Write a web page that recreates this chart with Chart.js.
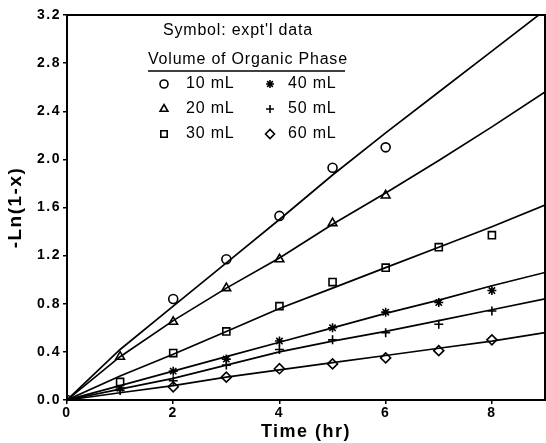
<!DOCTYPE html>
<html>
<head>
<meta charset="utf-8">
<script src="https://cdn.jsdelivr.net/npm/chart.js@4.4.1/dist/chart.umd.min.js"></script>
<style>
  body { margin: 0; background: #fff; }
  #wrap { width: 546px; height: 443px; }
</style>
</head>
<body>
<div id="wrap"><canvas id="chart" width="546" height="443"></canvas></div>
<script>
// series labels (volume of organic phase)
const volumes = ['10 mL', '20 mL', '30 mL', '40 mL', '50 mL', '60 mL'];

// experimental data, time (hr) and -Ln(1-x)
const t10 = [0, 2, 3, 4, 5, 6];
const y10 = [0, 0.84, 1.17, 1.53, 1.93, 2.10];
const t20 = [1, 2, 3, 4, 5, 6];
const y20 = [0.36, 0.65, 0.93, 1.17, 1.47, 1.70];
const t30 = [1, 2, 3, 4, 5, 6, 7, 8];
const y30 = [0.15, 0.39, 0.57, 0.78, 0.98, 1.10, 1.27, 1.37];
const t40 = [1, 2, 3, 4, 5, 6, 7, 8];
const y40 = [0.10, 0.24, 0.34, 0.49, 0.60, 0.73, 0.81, 0.91];
const t50 = [1, 2, 3, 4, 5, 6, 7, 8];
const y50 = [0.08, 0.16, 0.29, 0.42, 0.50, 0.56, 0.63, 0.74];
const t60 = [2, 3, 4, 5, 6, 7, 8];
const y60 = [0.11, 0.19, 0.26, 0.30, 0.35, 0.41, 0.50];

// model lines, read at each hour
const fitT = [0, 1, 2, 3, 4, 5, 6, 7, 8, 9];
const fit10 = [0, 0.42, 0.78, 1.14, 1.50, 1.87, 2.22, 2.56, 2.90, 3.24];
const fit20 = [0, 0.36, 0.66, 0.93, 1.18, 1.46, 1.72, 1.99, 2.27, 2.56];
const fit30 = [0, 0.20, 0.38, 0.57, 0.76, 0.93, 1.10, 1.27, 1.44, 1.62];
const fit40 = [0, 0.12, 0.24, 0.36, 0.48, 0.60, 0.72, 0.83, 0.95, 1.06];
const fit50 = [0, 0.09, 0.18, 0.29, 0.40, 0.49, 0.57, 0.66, 0.75, 0.84];
const fit60 = [0, 0.06, 0.12, 0.19, 0.25, 0.31, 0.37, 0.43, 0.49, 0.56];

// axis ticks
const xTicks = [0, 2, 4, 6, 8];
const yTicks = [0, 0.4, 0.8, 1.2, 1.6, 2.0, 2.4, 2.8, 3.2];

const expT = [t10, t20, t30, t40, t50, t60];
const expY = [y10, y20, y30, y40, y50, y60];
const fits = [fit10, fit20, fit30, fit40, fit50, fit60];
const symbols = ['circle', 'triangle', 'rect', 'star', 'cross', 'rectRot'];
const symbolSize = [4.5, 5, 5, 4.5, 4.5, 5];

const pairs = (xs, ys) => xs.map((x, i) => ({ x: x, y: ys[i] }));

const datasets = [];
fits.forEach(f => {
    datasets.push({
        data: pairs(fitT, f),
        showLine: true,
        borderColor: '#000',
        borderWidth: 1.7,
        pointRadius: 0,
        tension: 0
    });
});
expT.forEach((ts, i) => {
    datasets.push({
        label: volumes[i],
        data: pairs(ts, expY[i]),
        showLine: false,
        pointStyle: symbols[i],
        pointRadius: symbolSize[i],
        pointBorderWidth: 1.6,
        pointBorderColor: '#000',
        pointBackgroundColor: '#fff'
    });
});

const FONT = '"Liberation Sans", Arial, sans-serif';

// wider letter spacing for the axis texts
const spacingPlugin = {
    id: 'spacing',
    beforeDraw(chart) { chart.ctx.letterSpacing = '1.5px'; }
};

// frame + legend drawn inside the plot
const framePlugin = {
    id: 'frame',
    afterDraw(chart) {
        const ctx = chart.ctx;
        const a = chart.chartArea;
        ctx.save();
        ctx.strokeStyle = '#000';
        ctx.lineWidth = 2;
        ctx.strokeRect(a.left, a.top, a.right - a.left, a.bottom - a.top);

        ctx.fillStyle = '#000';
        ctx.textBaseline = 'middle';
        ctx.textAlign = 'left';
        ctx.letterSpacing = '0.8px';
        ctx.font = '16px ' + FONT;
        ctx.fillText("Symbol: expt'l data", 163, 31);
        ctx.fillText('Volume of Organic Phase', 148, 60);
        ctx.lineWidth = 1.5;
        ctx.beginPath();
        ctx.moveTo(148, 71);
        ctx.lineTo(345, 71);
        ctx.stroke();

        const colSym = [164, 270];
        const colTxt = [186, 288];
        const rowY = [84, 109, 134];
        volumes.forEach((v, i) => {
            const c = Math.floor(i / 3), r = i % 3;
            ctx.lineWidth = 1.6;
            ctx.strokeStyle = '#000';
            ctx.fillStyle = '#fff';
            Chart.helpers.drawPoint(ctx, {
                pointStyle: symbols[i], rotation: 0,
                radius: symbolSize[i] - 0.5, borderWidth: 1.6
            }, colSym[c], rowY[r]);
            ctx.fillStyle = '#000';
            ctx.font = '16px ' + FONT;
            ctx.fillText(v, colTxt[c], rowY[r]);
        });
        ctx.restore();
    }
};

new Chart(document.getElementById('chart'), {
    type: 'scatter',
    data: { datasets: datasets },
    options: {
        responsive: false,
        animation: false,
        layout: { autoPadding: false, padding: { top: 15, right: 1, left: 0, bottom: 0 } },
        plugins: {
            legend: { display: false },
            tooltip: { enabled: false }
        },
        scales: {
            x: {
                type: 'linear',
                min: 0,
                max: 9,
                afterBuildTicks: s => { s.ticks = xTicks.map(v => ({ value: v })); },
                afterFit: s => { s.height = 43; s.paddingRight = 0; s.paddingLeft = 0; },
                grid: { drawOnChartArea: false, tickLength: 4, color: '#000', lineWidth: 1.5 },
                border: { display: true, color: '#000', width: 2 },
                ticks: {
                    color: '#000',
                    padding: 1,
                    maxRotation: 0,
                    font: { family: FONT, size: 14, weight: 'bold' }
                },
                title: {
                    display: true,
                    text: 'Time (hr)',
                    color: '#000',
                    padding: { top: 0, bottom: 0 },
                    font: { family: FONT, size: 18, weight: 'bold' }
                }
            },
            y: {
                min: 0,
                max: 3.2,
                afterBuildTicks: s => { s.ticks = yTicks.map(v => ({ value: v })); },
                afterFit: s => { s.width = 67; },
                grid: { drawOnChartArea: false, tickLength: 4, color: '#000', lineWidth: 1.5 },
                border: { display: true, color: '#000', width: 2 },
                ticks: {
                    color: '#000',
                    padding: 2,
                    callback: v => v.toFixed(1),
                    font: { family: FONT, size: 14, weight: 'bold' }
                },
                title: {
                    display: true,
                    text: '-Ln(1-x)',
                    color: '#000',
                    padding: { top: 4, bottom: 2 },
                    font: { family: FONT, size: 19, weight: 'bold' }
                }
            }
        }
    },
    plugins: [spacingPlugin, framePlugin]
});
</script>
</body>
</html>
